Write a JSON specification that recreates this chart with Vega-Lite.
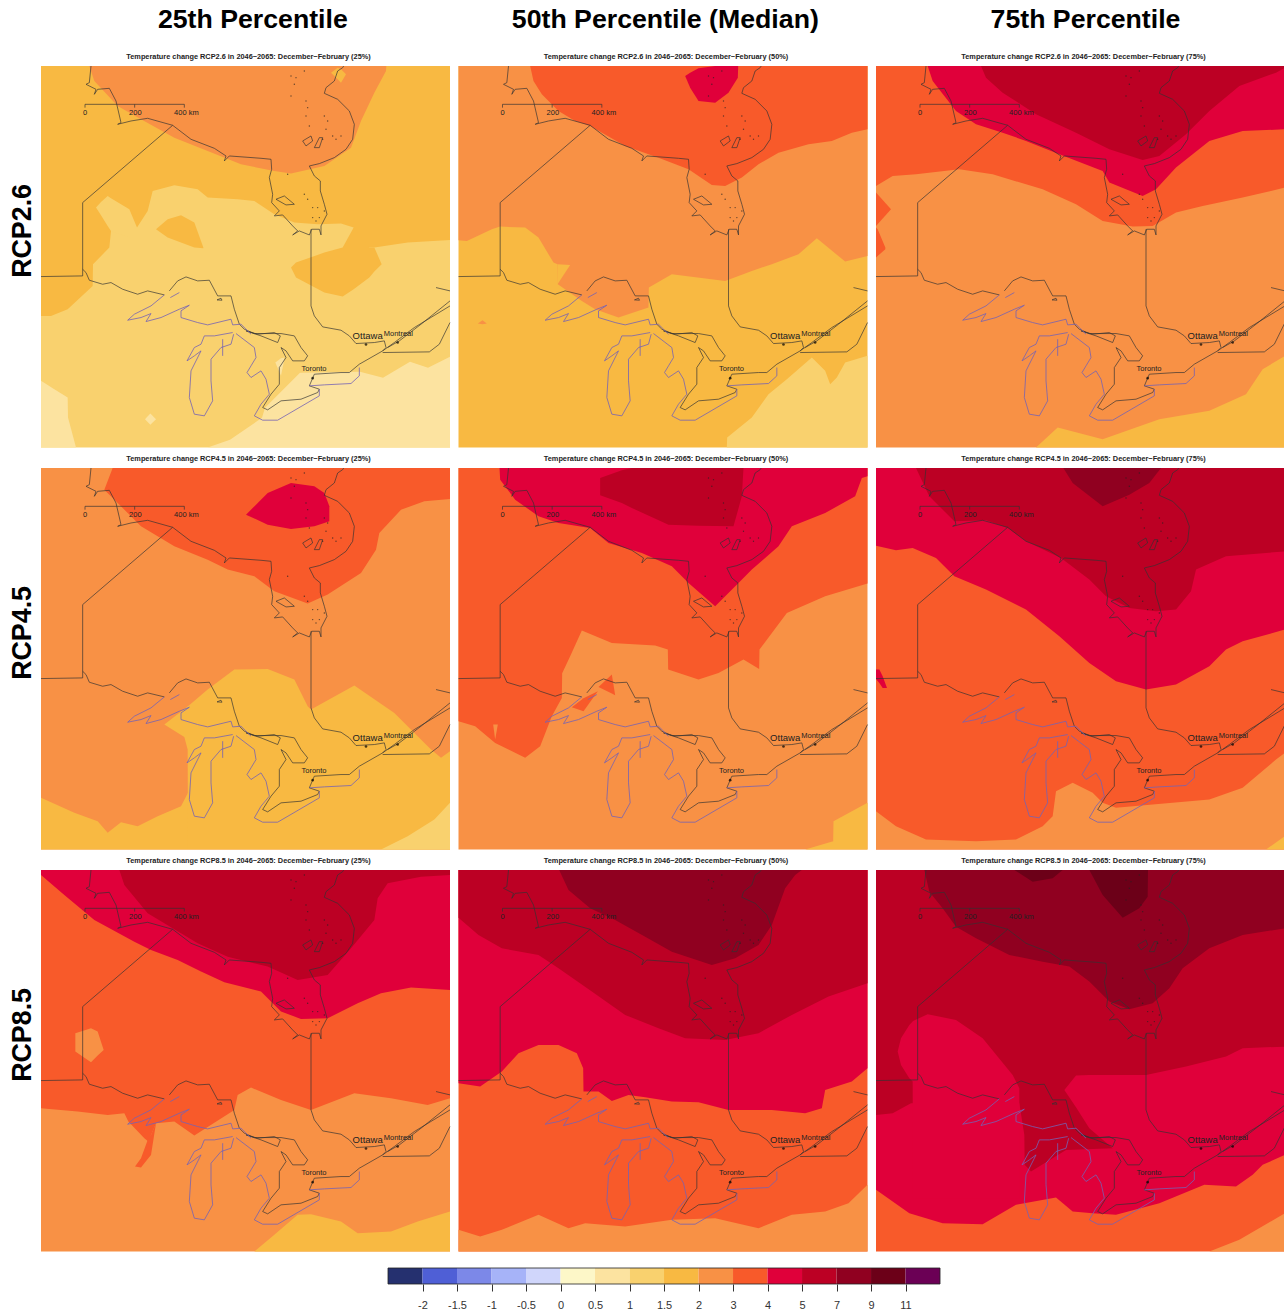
{"$schema":"https://vega.github.io/schema/vega-lite/v6.json","background":"white","padding":{"left":10,"top":7,"right":0,"bottom":0},"spacing":15,
"config":{"view":{"stroke":null},"text":{"font":"Liberation Sans"},"axis":{"labelFont":"Liberation Sans"}},
"datasets":{
"land":[
{"g":1,"x":150,"y":15},{"g":1,"x":145,"y":65},{"g":1,"x":135,"y":70},{"g":1,"x":165,"y":85},{"g":1,"x":160,"y":100},{"g":1,"x":170,"y":85},{"g":1,"x":205,"y":82},{"g":1,"x":225,"y":120},{"g":1,"x":240,"y":185},{"g":1,"x":230,"y":190},{"g":1,"x":270,"y":180},{"g":1,"x":320,"y":172},{"g":1,"x":395,"y":193},{"g":1,"x":450,"y":235},{"g":1,"x":520,"y":262},{"g":1,"x":555,"y":285},{"g":1,"x":550,"y":300},{"g":1,"x":565,"y":285},{"g":1,"x":660,"y":292},{"g":1,"x":690,"y":295},{"g":1,"x":692,"y":325},{"g":1,"x":685,"y":350},{"g":1,"x":695,"y":400},{"g":1,"x":692,"y":425},{"g":1,"x":715,"y":450},{"g":1,"x":700,"y":465},{"g":1,"x":725,"y":462},{"g":1,"x":755,"y":495},{"g":1,"x":770,"y":510},{"g":1,"x":755,"y":522},{"g":1,"x":775,"y":510},{"g":1,"x":805,"y":522},{"g":1,"x":812,"y":505},{"g":1,"x":835,"y":505},{"g":1,"x":840,"y":522},{"g":1,"x":840,"y":495},{"g":1,"x":858,"y":460},{"g":1,"x":850,"y":430},{"g":1,"x":838,"y":390},{"g":1,"x":838,"y":360},{"g":1,"x":820,"y":345},{"g":1,"x":805,"y":315},{"g":1,"x":835,"y":308},{"g":1,"x":880,"y":290},{"g":1,"x":915,"y":265},{"g":1,"x":935,"y":235},{"g":1,"x":940,"y":190},{"g":1,"x":925,"y":150},{"g":1,"x":890,"y":115},{"g":1,"x":850,"y":97},{"g":1,"x":855,"y":80},{"g":1,"x":880,"y":60},{"g":1,"x":890,"y":30},{"g":1,"x":905,"y":20},{"g":1,"x":908,"y":15},
{"g":2,"x":395,"y":193},{"g":2,"x":125,"y":425},{"g":2,"x":125,"y":645},{"g":2,"x":0,"y":647},
{"g":3,"x":125,"y":625},{"g":3,"x":135,"y":635},{"g":3,"x":145,"y":658},{"g":3,"x":185,"y":670},{"g":3,"x":210,"y":665},{"g":3,"x":245,"y":685},{"g":3,"x":290,"y":700},{"g":3,"x":320,"y":690},{"g":3,"x":370,"y":702},
{"g":4,"x":385,"y":690},{"g":4,"x":410,"y":660},{"g":4,"x":435,"y":648},{"g":4,"x":470,"y":660},{"g":4,"x":505,"y":658},{"g":4,"x":530,"y":705},{"g":4,"x":570,"y":705},{"g":4,"x":580,"y":745},{"g":4,"x":595,"y":790},{"g":4,"x":610,"y":805},{"g":4,"x":640,"y":818},{"g":4,"x":720,"y":818},{"g":4,"x":760,"y":825},{"g":4,"x":780,"y":860},{"g":4,"x":800,"y":885},{"g":4,"x":790,"y":900},{"g":4,"x":755,"y":900},{"g":4,"x":735,"y":870},{"g":4,"x":720,"y":860},{"g":4,"x":735,"y":890},{"g":4,"x":715,"y":920},{"g":4,"x":715,"y":970},{"g":4,"x":690,"y":1000},{"g":4,"x":665,"y":1040},{"g":4,"x":680,"y":1047},{"g":4,"x":720,"y":1020},{"g":4,"x":780,"y":1015},{"g":4,"x":830,"y":995},{"g":4,"x":835,"y":985},{"g":4,"x":805,"y":975},{"g":4,"x":820,"y":940},{"g":4,"x":900,"y":935},{"g":4,"x":925,"y":935},{"g":4,"x":955,"y":910},{"g":4,"x":1025,"y":870},{"g":4,"x":1060,"y":845},{"g":4,"x":1120,"y":800},{"g":4,"x":1227,"y":735},
{"g":5,"x":810,"y":505},{"g":5,"x":810,"y":735},{"g":5,"x":820,"y":765},{"g":5,"x":845,"y":798},{"g":5,"x":900,"y":808},{"g":5,"x":925,"y":825},{"g":5,"x":945,"y":848},{"g":5,"x":1000,"y":845},{"g":5,"x":1030,"y":840},{"g":5,"x":1035,"y":860},{"g":5,"x":1025,"y":870},
{"g":6,"x":1025,"y":875},{"g":6,"x":1165,"y":873},{"g":6,"x":1195,"y":850},{"g":6,"x":1227,"y":785},
{"g":7,"x":1040,"y":860},{"g":7,"x":1075,"y":840},{"g":7,"x":1140,"y":790},{"g":7,"x":1227,"y":720},
{"g":8,"x":1185,"y":680},{"g":8,"x":1227,"y":690},
{"g":9,"x":705,"y":415},{"g":9,"x":730,"y":405},{"g":9,"x":760,"y":430},{"g":9,"x":735,"y":432},{"g":9,"x":705,"y":415},
{"g":10,"x":785,"y":240},{"g":10,"x":810,"y":225},{"g":10,"x":815,"y":240},{"g":10,"x":795,"y":255},{"g":10,"x":785,"y":240},
{"g":11,"x":820,"y":260},{"g":11,"x":835,"y":230},{"g":11,"x":845,"y":230},{"g":11,"x":835,"y":260},{"g":11,"x":820,"y":260},
{"g":12,"x":615,"y":810},{"g":12,"x":650,"y":820},{"g":12,"x":700,"y":815},{"g":12,"x":718,"y":825},{"g":12,"x":710,"y":845},{"g":12,"x":660,"y":825},{"g":12,"x":615,"y":810},
{"g":13,"x":528,"y":717},{"g":13,"x":540,"y":712},{"g":13,"x":543,"y":718},{"g":13,"x":528,"y":717},
{"g":14,"x":132,"y":140},{"g":14,"x":132,"y":130},{"g":14,"x":430,"y":130},{"g":14,"x":430,"y":140},
{"g":15,"x":281,"y":130},{"g":15,"x":281,"y":140}],
"lake":[
{"g":1,"x":370,"y":702},{"g":1,"x":330,"y":735},{"g":1,"x":280,"y":760},{"g":1,"x":260,"y":778},{"g":1,"x":300,"y":770},{"g":1,"x":330,"y":758},{"g":1,"x":315,"y":782},{"g":1,"x":360,"y":770},{"g":1,"x":415,"y":745},{"g":1,"x":445,"y":733},{"g":1,"x":420,"y":750},{"g":1,"x":420,"y":770},{"g":1,"x":470,"y":785},{"g":1,"x":500,"y":792},{"g":1,"x":570,"y":775},{"g":1,"x":575,"y":792},{"g":1,"x":600,"y":790},{"g":1,"x":630,"y":820},
{"g":2,"x":585,"y":818},{"g":2,"x":640,"y":860},{"g":2,"x":645,"y":890},{"g":2,"x":630,"y":915},{"g":2,"x":618,"y":935},{"g":2,"x":630,"y":950},{"g":2,"x":660,"y":930},{"g":2,"x":675,"y":955},{"g":2,"x":685,"y":1000},{"g":2,"x":660,"y":1030},{"g":2,"x":640,"y":1065},{"g":2,"x":665,"y":1078},{"g":2,"x":710,"y":1078},{"g":2,"x":835,"y":1005},{"g":2,"x":835,"y":985},
{"g":3,"x":575,"y":815},{"g":3,"x":520,"y":825},{"g":3,"x":490,"y":825},{"g":3,"x":480,"y":850},{"g":3,"x":460,"y":860},{"g":3,"x":438,"y":900},{"g":3,"x":460,"y":885},{"g":3,"x":480,"y":870},{"g":3,"x":450,"y":930},{"g":3,"x":445,"y":1010},{"g":3,"x":460,"y":1060},{"g":3,"x":490,"y":1065},{"g":3,"x":515,"y":1020},{"g":3,"x":510,"y":960},{"g":3,"x":510,"y":895},{"g":3,"x":540,"y":860},{"g":3,"x":570,"y":850},{"g":3,"x":578,"y":820},
{"g":4,"x":805,"y":975},{"g":4,"x":850,"y":972},{"g":4,"x":930,"y":968},{"g":4,"x":955,"y":945},{"g":4,"x":955,"y":920},
{"g":5,"x":388,"y":710},{"g":5,"x":415,"y":695},
{"g":6,"x":545,"y":835},{"g":6,"x":545,"y":885}],
"dots":[{"x":750,"y":45},{"x":765,"y":50},{"x":790,"y":30},{"x":760,"y":70},{"x":750,"y":105},{"x":795,"y":120},{"x":800,"y":140},{"x":795,"y":165},{"x":850,"y":165},{"x":860,"y":180},{"x":805,"y":195},{"x":855,"y":205},{"x":845,"y":235},{"x":875,"y":225},{"x":900,"y":225},{"x":885,"y":235},{"x":740,"y":340},{"x":790,"y":400},{"x":800,"y":415},{"x":815,"y":440},{"x":830,"y":440},{"x":815,"y":470},{"x":835,"y":470},{"x":850,"y":450},{"x":825,"y":480}],
"cities":[{"x":975,"y":851},{"x":1070,"y":845},{"x":815,"y":952}],
"labels":[{"n":"Montreal","x":1072,"y":818},{"n":"Toronto","x":819,"y":925},{"n":"0","x":132,"y":157},{"n":"200","x":283,"y":157},{"n":"400 km","x":436,"y":157}]
},
"vconcat":[
{"data":{"values":[
{"r":1,"c":1,"t":"Temperature change RCP2.6 in 2046−2065: December−February (25%)","h":"25th Percentile","l":"RCP2.6"},
{"r":1,"c":2,"t":"Temperature change RCP2.6 in 2046−2065: December−February (50%)","h":"50th Percentile (Median)"},
{"r":1,"c":3,"t":"Temperature change RCP2.6 in 2046−2065: December−February (75%)","h":"75th Percentile"},
{"r":2,"c":1,"t":"Temperature change RCP4.5 in 2046−2065: December−February (25%)","l":"RCP4.5"},
{"r":2,"c":2,"t":"Temperature change RCP4.5 in 2046−2065: December−February (50%)"},
{"r":2,"c":3,"t":"Temperature change RCP4.5 in 2046−2065: December−February (75%)"},
{"r":3,"c":1,"t":"Temperature change RCP8.5 in 2046−2065: December−February (25%)","l":"RCP8.5"},
{"r":3,"c":2,"t":"Temperature change RCP8.5 in 2046−2065: December−February (50%)"},
{"r":3,"c":3,"t":"Temperature change RCP8.5 in 2046−2065: December−February (75%)"},
{"r":1,"c":1,"s":1,"v":1,"x":0,"y":15,"z":1160},{"r":1,"c":1,"s":1,"v":1,"x":1227,"y":15,"z":1160},
{"r":1,"c":1,"s":2,"v":1.5,"x":0,"y":15,"z":765},{"r":1,"c":1,"s":2,"v":1.5,"x":30,"y":15,"z":765},{"r":1,"c":1,"s":2,"v":1.5,"x":80,"y":15,"z":745},{"r":1,"c":1,"s":2,"v":1.5,"x":155,"y":15,"z":675},{"r":1,"c":1,"s":2,"v":1.5,"x":156,"y":15,"z":610},{"r":1,"c":1,"s":2,"v":1.5,"x":205,"y":15,"z":560},{"r":1,"c":1,"s":2,"v":1.5,"x":210,"y":15,"z":510},{"r":1,"c":1,"s":2,"v":1.5,"x":288,"y":15,"z":500},{"r":1,"c":1,"s":2,"v":1.5,"x":320,"y":15,"z":450},{"r":1,"c":1,"s":2,"v":1.5,"x":335,"y":15,"z":390},{"r":1,"c":1,"s":2,"v":1.5,"x":400,"y":15,"z":373},{"r":1,"c":1,"s":2,"v":1.5,"x":470,"y":15,"z":385},{"r":1,"c":1,"s":2,"v":1.5,"x":500,"y":15,"z":410},{"r":1,"c":1,"s":2,"v":1.5,"x":590,"y":15,"z":415},{"r":1,"c":1,"s":2,"v":1.5,"x":640,"y":15,"z":420},{"r":1,"c":1,"s":2,"v":1.5,"x":700,"y":15,"z":460},{"r":1,"c":1,"s":2,"v":1.5,"x":760,"y":15,"z":485},{"r":1,"c":1,"s":2,"v":1.5,"x":830,"y":15,"z":490},{"r":1,"c":1,"s":2,"v":1.5,"x":900,"y":15,"z":488},{"r":1,"c":1,"s":2,"v":1.5,"x":938,"y":15,"z":500},{"r":1,"c":1,"s":2,"v":1.5,"x":940,"y":15,"z":560},{"r":1,"c":1,"s":2,"v":1.5,"x":1000,"y":15,"z":560},{"r":1,"c":1,"s":2,"v":1.5,"x":1100,"y":15,"z":545},{"r":1,"c":1,"s":2,"v":1.5,"x":1227,"y":15,"z":537},
{"r":1,"c":1,"s":3,"v":1,"x":165,"y":440,"z":440},{"r":1,"c":1,"s":3,"v":1,"x":180,"y":423,"z":463},{"r":1,"c":1,"s":3,"v":1,"x":200,"y":405,"z":495},{"r":1,"c":1,"s":3,"v":1,"x":210,"y":412,"z":510},{"r":1,"c":1,"s":3,"v":1,"x":265,"y":445,"z":530},{"r":1,"c":1,"s":3,"v":1,"x":288,"y":500,"z":530},
{"r":1,"c":1,"s":4,"v":1.5,"x":345,"y":505,"z":505},{"r":1,"c":1,"s":4,"v":1.5,"x":380,"y":475,"z":530},{"r":1,"c":1,"s":4,"v":1.5,"x":420,"y":463,"z":545},{"r":1,"c":1,"s":4,"v":1.5,"x":460,"y":485,"z":560},{"r":1,"c":1,"s":4,"v":1.5,"x":487,"y":560,"z":562},
{"r":1,"c":1,"s":5,"v":1.5,"x":750,"y":620,"z":620},{"r":1,"c":1,"s":5,"v":1.5,"x":765,"y":605,"z":650},{"r":1,"c":1,"s":5,"v":1.5,"x":850,"y":575,"z":695},{"r":1,"c":1,"s":5,"v":1.5,"x":905,"y":560,"z":707},{"r":1,"c":1,"s":5,"v":1.5,"x":938,"y":500,"z":685},{"r":1,"c":1,"s":5,"v":1.5,"x":985,"y":560,"z":650},{"r":1,"c":1,"s":5,"v":1.5,"x":1000,"y":560,"z":632},{"r":1,"c":1,"s":5,"v":1.5,"x":1022,"y":610,"z":610},
{"r":1,"c":1,"s":6,"v":0.5,"x":500,"y":1160,"z":1160},{"r":1,"c":1,"s":6,"v":0.5,"x":567,"y":1137,"z":1160},{"r":1,"c":1,"s":6,"v":0.5,"x":663,"y":1071,"z":1160},{"r":1,"c":1,"s":6,"v":0.5,"x":672,"y":1041,"z":1160},{"r":1,"c":1,"s":6,"v":0.5,"x":777,"y":936,"z":1160},{"r":1,"c":1,"s":6,"v":0.5,"x":957,"y":933,"z":1160},{"r":1,"c":1,"s":6,"v":0.5,"x":1026,"y":951,"z":1160},{"r":1,"c":1,"s":6,"v":0.5,"x":1107,"y":903,"z":1160},{"r":1,"c":1,"s":6,"v":0.5,"x":1161,"y":921,"z":1160},{"r":1,"c":1,"s":6,"v":0.5,"x":1227,"y":888,"z":1160},
{"r":1,"c":1,"s":7,"v":0.5,"x":0,"y":960,"z":1160},{"r":1,"c":1,"s":7,"v":0.5,"x":40,"y":985,"z":1160},{"r":1,"c":1,"s":7,"v":0.5,"x":80,"y":1010,"z":1160},{"r":1,"c":1,"s":7,"v":0.5,"x":81,"y":1070,"z":1160},{"r":1,"c":1,"s":7,"v":0.5,"x":105,"y":1160,"z":1160},
{"r":1,"c":1,"s":8,"v":0.5,"x":312,"y":1075,"z":1075},{"r":1,"c":1,"s":8,"v":0.5,"x":328,"y":1058,"z":1092},{"r":1,"c":1,"s":8,"v":0.5,"x":345,"y":1075,"z":1075},
{"r":1,"c":1,"s":9,"v":0.5,"x":703,"y":905,"z":905},{"r":1,"c":1,"s":9,"v":0.5,"x":720,"y":892,"z":945},{"r":1,"c":1,"s":9,"v":0.5,"x":730,"y":890,"z":895},
{"r":1,"c":1,"s":10,"v":2,"x":145,"y":15,"z":15},{"r":1,"c":1,"s":10,"v":2,"x":160,"y":15,"z":60},{"r":1,"c":1,"s":10,"v":2,"x":230,"y":15,"z":135},{"r":1,"c":1,"s":10,"v":2,"x":300,"y":15,"z":175},{"r":1,"c":1,"s":10,"v":2,"x":400,"y":15,"z":230},{"r":1,"c":1,"s":10,"v":2,"x":500,"y":15,"z":270},{"r":1,"c":1,"s":10,"v":2,"x":600,"y":15,"z":310},{"r":1,"c":1,"s":10,"v":2,"x":700,"y":15,"z":330},{"r":1,"c":1,"s":10,"v":2,"x":750,"y":15,"z":338},{"r":1,"c":1,"s":10,"v":2,"x":850,"y":15,"z":315},{"r":1,"c":1,"s":10,"v":2,"x":930,"y":15,"z":260},{"r":1,"c":1,"s":10,"v":2,"x":960,"y":15,"z":180},{"r":1,"c":1,"s":10,"v":2,"x":1000,"y":15,"z":95},{"r":1,"c":1,"s":10,"v":2,"x":1035,"y":15,"z":30},{"r":1,"c":1,"s":10,"v":2,"x":1036,"y":15,"z":15},
{"r":1,"c":1,"s":11,"v":1.5,"x":870,"y":35,"z":35},{"r":1,"c":1,"s":11,"v":1.5,"x":890,"y":20,"z":55},{"r":1,"c":1,"s":11,"v":1.5,"x":900,"y":25,"z":65},{"r":1,"c":1,"s":11,"v":1.5,"x":915,"y":40,"z":40},

{"r":1,"c":2,"s":1,"v":1.5,"x":0,"y":15,"z":1160},{"r":1,"c":2,"s":1,"v":1.5,"x":1227,"y":15,"z":1160},
{"r":1,"c":2,"s":2,"v":2,"x":0,"y":15,"z":538},{"r":1,"c":2,"s":2,"v":2,"x":25,"y":15,"z":540},{"r":1,"c":2,"s":2,"v":2,"x":100,"y":15,"z":505},{"r":1,"c":2,"s":2,"v":2,"x":125,"y":15,"z":497},{"r":1,"c":2,"s":2,"v":2,"x":200,"y":15,"z":500},{"r":1,"c":2,"s":2,"v":2,"x":240,"y":15,"z":530},{"r":1,"c":2,"s":2,"v":2,"x":285,"y":15,"z":605},{"r":1,"c":2,"s":2,"v":2,"x":297,"y":15,"z":610},{"r":1,"c":2,"s":2,"v":2,"x":298,"y":15,"z":670},{"r":1,"c":2,"s":2,"v":2,"x":370,"y":15,"z":720},{"r":1,"c":2,"s":2,"v":2,"x":410,"y":15,"z":745},{"r":1,"c":2,"s":2,"v":2,"x":480,"y":15,"z":770},{"r":1,"c":2,"s":2,"v":2,"x":570,"y":15,"z":740},{"r":1,"c":2,"s":2,"v":2,"x":571,"y":15,"z":680},{"r":1,"c":2,"s":2,"v":2,"x":640,"y":15,"z":640},{"r":1,"c":2,"s":2,"v":2,"x":800,"y":15,"z":660},{"r":1,"c":2,"s":2,"v":2,"x":880,"y":15,"z":630},{"r":1,"c":2,"s":2,"v":2,"x":940,"y":15,"z":610},{"r":1,"c":2,"s":2,"v":2,"x":1020,"y":15,"z":580},{"r":1,"c":2,"s":2,"v":2,"x":1075,"y":15,"z":532},{"r":1,"c":2,"s":2,"v":2,"x":1160,"y":15,"z":602},{"r":1,"c":2,"s":2,"v":2,"x":1227,"y":15,"z":585},
{"r":1,"c":2,"s":3,"v":1.5,"x":297,"y":610,"z":670},{"r":1,"c":2,"s":3,"v":1.5,"x":335,"y":612,"z":612},
{"r":1,"c":2,"s":4,"v":3,"x":215,"y":15,"z":15},{"r":1,"c":2,"s":4,"v":3,"x":225,"y":15,"z":60},{"r":1,"c":2,"s":4,"v":3,"x":250,"y":15,"z":100},{"r":1,"c":2,"s":4,"v":3,"x":300,"y":15,"z":150},{"r":1,"c":2,"s":4,"v":3,"x":350,"y":15,"z":180},{"r":1,"c":2,"s":4,"v":3,"x":395,"y":15,"z":195},{"r":1,"c":2,"s":4,"v":3,"x":500,"y":15,"z":255},{"r":1,"c":2,"s":4,"v":3,"x":600,"y":15,"z":290},{"r":1,"c":2,"s":4,"v":3,"x":690,"y":15,"z":325},{"r":1,"c":2,"s":4,"v":3,"x":760,"y":15,"z":372},{"r":1,"c":2,"s":4,"v":3,"x":800,"y":15,"z":375},{"r":1,"c":2,"s":4,"v":3,"x":850,"y":15,"z":350},{"r":1,"c":2,"s":4,"v":3,"x":900,"y":15,"z":310},{"r":1,"c":2,"s":4,"v":3,"x":960,"y":15,"z":275},{"r":1,"c":2,"s":4,"v":3,"x":1050,"y":15,"z":250},{"r":1,"c":2,"s":4,"v":3,"x":1120,"y":15,"z":240},{"r":1,"c":2,"s":4,"v":3,"x":1180,"y":15,"z":215},{"r":1,"c":2,"s":4,"v":3,"x":1227,"y":15,"z":205},
{"r":1,"c":2,"s":5,"v":4,"x":680,"y":45,"z":45},{"r":1,"c":2,"s":5,"v":4,"x":695,"y":35,"z":80},{"r":1,"c":2,"s":5,"v":4,"x":720,"y":22,"z":120},{"r":1,"c":2,"s":5,"v":4,"x":770,"y":15,"z":125},{"r":1,"c":2,"s":5,"v":4,"x":810,"y":15,"z":95},{"r":1,"c":2,"s":5,"v":4,"x":838,"y":15,"z":50},{"r":1,"c":2,"s":5,"v":4,"x":839,"y":15,"z":15},
{"r":1,"c":2,"s":6,"v":1,"x":805,"y":1160,"z":1160},{"r":1,"c":2,"s":6,"v":1,"x":806,"y":1130,"z":1160},{"r":1,"c":2,"s":6,"v":1,"x":880,"y":1070,"z":1160},{"r":1,"c":2,"s":6,"v":1,"x":930,"y":1000,"z":1160},{"r":1,"c":2,"s":6,"v":1,"x":985,"y":955,"z":1160},{"r":1,"c":2,"s":6,"v":1,"x":1060,"y":890,"z":1160},{"r":1,"c":2,"s":6,"v":1,"x":1100,"y":930,"z":1160},{"r":1,"c":2,"s":6,"v":1,"x":1115,"y":970,"z":1160},{"r":1,"c":2,"s":6,"v":1,"x":1135,"y":950,"z":1160},{"r":1,"c":2,"s":6,"v":1,"x":1160,"y":905,"z":1160},{"r":1,"c":2,"s":6,"v":1,"x":1227,"y":885,"z":1160},
{"r":1,"c":2,"s":7,"v":2,"x":58,"y":788,"z":788},{"r":1,"c":2,"s":7,"v":2,"x":72,"y":778,"z":790},{"r":1,"c":2,"s":7,"v":2,"x":85,"y":788,"z":788},

{"r":1,"c":3,"s":1,"v":2,"x":0,"y":15,"z":1160},{"r":1,"c":3,"s":1,"v":2,"x":1227,"y":15,"z":1160},
{"r":1,"c":3,"s":2,"v":3,"x":0,"y":15,"z":375},{"r":1,"c":3,"s":2,"v":3,"x":50,"y":15,"z":345},{"r":1,"c":3,"s":2,"v":3,"x":120,"y":15,"z":340},{"r":1,"c":3,"s":2,"v":3,"x":250,"y":15,"z":325},{"r":1,"c":3,"s":2,"v":3,"x":350,"y":15,"z":340},{"r":1,"c":3,"s":2,"v":3,"x":500,"y":15,"z":385},{"r":1,"c":3,"s":2,"v":3,"x":600,"y":15,"z":430},{"r":1,"c":3,"s":2,"v":3,"x":680,"y":15,"z":480},{"r":1,"c":3,"s":2,"v":3,"x":770,"y":15,"z":497},{"r":1,"c":3,"s":2,"v":3,"x":830,"y":15,"z":495},{"r":1,"c":3,"s":2,"v":3,"x":900,"y":15,"z":455},{"r":1,"c":3,"s":2,"v":3,"x":980,"y":15,"z":435},{"r":1,"c":3,"s":2,"v":3,"x":1100,"y":15,"z":410},{"r":1,"c":3,"s":2,"v":3,"x":1227,"y":15,"z":380},
{"r":1,"c":3,"s":3,"v":3,"x":0,"y":395,"z":495},{"r":1,"c":3,"s":3,"v":3,"x":45,"y":445,"z":445},
{"r":1,"c":3,"s":4,"v":3,"x":0,"y":500,"z":590},{"r":1,"c":3,"s":4,"v":3,"x":5,"y":505,"z":585},{"r":1,"c":3,"s":4,"v":3,"x":28,"y":560,"z":565},
{"r":1,"c":3,"s":5,"v":4,"x":155,"y":15,"z":15},{"r":1,"c":3,"s":5,"v":4,"x":170,"y":15,"z":60},{"r":1,"c":3,"s":5,"v":4,"x":240,"y":15,"z":150},{"r":1,"c":3,"s":5,"v":4,"x":300,"y":15,"z":190},{"r":1,"c":3,"s":5,"v":4,"x":380,"y":15,"z":215},{"r":1,"c":3,"s":5,"v":4,"x":450,"y":15,"z":240},{"r":1,"c":3,"s":5,"v":4,"x":550,"y":15,"z":280},{"r":1,"c":3,"s":5,"v":4,"x":680,"y":15,"z":330},{"r":1,"c":3,"s":5,"v":4,"x":700,"y":15,"z":365},{"r":1,"c":3,"s":5,"v":4,"x":800,"y":15,"z":405},{"r":1,"c":3,"s":5,"v":4,"x":840,"y":15,"z":385},{"r":1,"c":3,"s":5,"v":4,"x":900,"y":15,"z":320},{"r":1,"c":3,"s":5,"v":4,"x":1000,"y":15,"z":240},{"r":1,"c":3,"s":5,"v":4,"x":1100,"y":15,"z":210},{"r":1,"c":3,"s":5,"v":4,"x":1227,"y":15,"z":205},
{"r":1,"c":3,"s":6,"v":5,"x":315,"y":15,"z":15},{"r":1,"c":3,"s":6,"v":5,"x":330,"y":15,"z":50},{"r":1,"c":3,"s":6,"v":5,"x":380,"y":15,"z":95},{"r":1,"c":3,"s":6,"v":5,"x":480,"y":15,"z":160},{"r":1,"c":3,"s":6,"v":5,"x":600,"y":15,"z":215},{"r":1,"c":3,"s":6,"v":5,"x":700,"y":15,"z":265},{"r":1,"c":3,"s":6,"v":5,"x":800,"y":15,"z":297},{"r":1,"c":3,"s":6,"v":5,"x":850,"y":15,"z":285},{"r":1,"c":3,"s":6,"v":5,"x":930,"y":15,"z":220},{"r":1,"c":3,"s":6,"v":5,"x":1000,"y":15,"z":150},{"r":1,"c":3,"s":6,"v":5,"x":1090,"y":15,"z":75},{"r":1,"c":3,"s":6,"v":5,"x":1200,"y":15,"z":35},{"r":1,"c":3,"s":6,"v":5,"x":1227,"y":15,"z":20},
{"r":1,"c":3,"s":7,"v":1.5,"x":480,"y":1160,"z":1160},{"r":1,"c":3,"s":7,"v":1.5,"x":545,"y":1100,"z":1160},{"r":1,"c":3,"s":7,"v":1.5,"x":680,"y":1135,"z":1160},{"r":1,"c":3,"s":7,"v":1.5,"x":850,"y":1075,"z":1160},{"r":1,"c":3,"s":7,"v":1.5,"x":1000,"y":1050,"z":1160},{"r":1,"c":3,"s":7,"v":1.5,"x":1110,"y":1000,"z":1160},{"r":1,"c":3,"s":7,"v":1.5,"x":1160,"y":925,"z":1160},{"r":1,"c":3,"s":7,"v":1.5,"x":1227,"y":885,"z":1160},

{"r":2,"c":1,"s":1,"v":2,"x":0,"y":15,"z":1160},{"r":2,"c":1,"s":1,"v":2,"x":1227,"y":15,"z":1160},
{"r":2,"c":1,"s":2,"v":3,"x":190,"y":80,"z":80},{"r":2,"c":1,"s":2,"v":3,"x":215,"y":15,"z":105},{"r":2,"c":1,"s":2,"v":3,"x":240,"y":15,"z":130},{"r":2,"c":1,"s":2,"v":3,"x":300,"y":15,"z":190},{"r":2,"c":1,"s":2,"v":3,"x":400,"y":15,"z":250},{"r":2,"c":1,"s":2,"v":3,"x":500,"y":15,"z":290},{"r":2,"c":1,"s":2,"v":3,"x":560,"y":15,"z":320},{"r":2,"c":1,"s":2,"v":3,"x":640,"y":15,"z":340},{"r":2,"c":1,"s":2,"v":3,"x":700,"y":15,"z":385},{"r":2,"c":1,"s":2,"v":3,"x":800,"y":15,"z":422},{"r":2,"c":1,"s":2,"v":3,"x":860,"y":15,"z":395},{"r":2,"c":1,"s":2,"v":3,"x":960,"y":15,"z":330},{"r":2,"c":1,"s":2,"v":3,"x":1005,"y":15,"z":260},{"r":2,"c":1,"s":2,"v":3,"x":1015,"y":15,"z":210},{"r":2,"c":1,"s":2,"v":3,"x":1080,"y":15,"z":140},{"r":2,"c":1,"s":2,"v":3,"x":1150,"y":15,"z":115},{"r":2,"c":1,"s":2,"v":3,"x":1227,"y":15,"z":108},
{"r":2,"c":1,"s":3,"v":4,"x":615,"y":155,"z":155},{"r":2,"c":1,"s":3,"v":4,"x":680,"y":90,"z":185},{"r":2,"c":1,"s":3,"v":4,"x":750,"y":60,"z":198},{"r":2,"c":1,"s":3,"v":4,"x":820,"y":70,"z":190},{"r":2,"c":1,"s":3,"v":4,"x":850,"y":90,"z":180},{"r":2,"c":1,"s":3,"v":4,"x":865,"y":130,"z":175},
{"r":2,"c":1,"s":4,"v":1.5,"x":0,"y":1005,"z":1160},{"r":2,"c":1,"s":4,"v":1.5,"x":100,"y":1050,"z":1160},{"r":2,"c":1,"s":4,"v":1.5,"x":170,"y":1075,"z":1160},{"r":2,"c":1,"s":4,"v":1.5,"x":200,"y":1110,"z":1160},{"r":2,"c":1,"s":4,"v":1.5,"x":240,"y":1078,"z":1160},{"r":2,"c":1,"s":4,"v":1.5,"x":290,"y":1090,"z":1160},{"r":2,"c":1,"s":4,"v":1.5,"x":350,"y":1060,"z":1160},{"r":2,"c":1,"s":4,"v":1.5,"x":420,"y":1030,"z":1160},{"r":2,"c":1,"s":4,"v":1.5,"x":441,"y":990,"z":1160},
{"r":2,"c":1,"s":5,"v":1.5,"x":370,"y":785,"z":785},{"r":2,"c":1,"s":5,"v":1.5,"x":430,"y":738,"z":822},{"r":2,"c":1,"s":5,"v":1.5,"x":440,"y":730,"z":860},{"r":2,"c":1,"s":5,"v":1.5,"x":441,"y":730,"z":1160},{"r":2,"c":1,"s":5,"v":1.5,"x":500,"y":680,"z":1160},{"r":2,"c":1,"s":5,"v":1.5,"x":580,"y":620,"z":1160},{"r":2,"c":1,"s":5,"v":1.5,"x":680,"y":618,"z":1160},{"r":2,"c":1,"s":5,"v":1.5,"x":760,"y":650,"z":1160},{"r":2,"c":1,"s":5,"v":1.5,"x":800,"y":730,"z":1160},{"r":2,"c":1,"s":5,"v":1.5,"x":810,"y":740,"z":1160},{"r":2,"c":1,"s":5,"v":1.5,"x":940,"y":668,"z":1160},{"r":2,"c":1,"s":5,"v":1.5,"x":1060,"y":750,"z":1160},{"r":2,"c":1,"s":5,"v":1.5,"x":1170,"y":860,"z":1160},{"r":2,"c":1,"s":5,"v":1.5,"x":1200,"y":885,"z":1160},{"r":2,"c":1,"s":5,"v":1.5,"x":1227,"y":865,"z":1160},
{"r":2,"c":1,"s":6,"v":1,"x":1020,"y":1160,"z":1160},{"r":2,"c":1,"s":6,"v":1,"x":1100,"y":1120,"z":1160},{"r":2,"c":1,"s":6,"v":1,"x":1180,"y":1070,"z":1160},{"r":2,"c":1,"s":6,"v":1,"x":1227,"y":1020,"z":1160},

{"r":2,"c":2,"s":1,"v":2,"x":0,"y":15,"z":1160},{"r":2,"c":2,"s":1,"v":2,"x":1227,"y":15,"z":1160},
{"r":2,"c":2,"s":2,"v":3,"x":0,"y":15,"z":775},{"r":2,"c":2,"s":2,"v":3,"x":50,"y":15,"z":790},{"r":2,"c":2,"s":2,"v":3,"x":110,"y":15,"z":840},{"r":2,"c":2,"s":2,"v":3,"x":200,"y":15,"z":885},{"r":2,"c":2,"s":2,"v":3,"x":245,"y":15,"z":850},{"r":2,"c":2,"s":2,"v":3,"x":280,"y":15,"z":760},{"r":2,"c":2,"s":2,"v":3,"x":310,"y":15,"z":705},{"r":2,"c":2,"s":2,"v":3,"x":311,"y":15,"z":631},{"r":2,"c":2,"s":2,"v":3,"x":335,"y":15,"z":580},{"r":2,"c":2,"s":2,"v":3,"x":370,"y":15,"z":503},{"r":2,"c":2,"s":2,"v":3,"x":460,"y":15,"z":540},{"r":2,"c":2,"s":2,"v":3,"x":590,"y":15,"z":548},{"r":2,"c":2,"s":2,"v":3,"x":628,"y":15,"z":560},{"r":2,"c":2,"s":2,"v":3,"x":629,"y":15,"z":620},{"r":2,"c":2,"s":2,"v":3,"x":720,"y":15,"z":650},{"r":2,"c":2,"s":2,"v":3,"x":780,"y":15,"z":630},{"r":2,"c":2,"s":2,"v":3,"x":855,"y":15,"z":590},{"r":2,"c":2,"s":2,"v":3,"x":902,"y":15,"z":618},{"r":2,"c":2,"s":2,"v":3,"x":903,"y":15,"z":560},{"r":2,"c":2,"s":2,"v":3,"x":985,"y":15,"z":450},{"r":2,"c":2,"s":2,"v":3,"x":1100,"y":15,"z":400},{"r":2,"c":2,"s":2,"v":3,"x":1227,"y":15,"z":362},
{"r":2,"c":2,"s":3,"v":2,"x":104,"y":785,"z":785},{"r":2,"c":2,"s":3,"v":2,"x":110,"y":785,"z":830},{"r":2,"c":2,"s":3,"v":2,"x":118,"y":785,"z":785},
{"r":2,"c":2,"s":4,"v":3,"x":340,"y":733,"z":733},{"r":2,"c":2,"s":4,"v":3,"x":375,"y":706,"z":745},{"r":2,"c":2,"s":4,"v":3,"x":418,"y":685,"z":685},
{"r":2,"c":2,"s":5,"v":3,"x":420,"y":672,"z":672},{"r":2,"c":2,"s":5,"v":3,"x":460,"y":635,"z":692},{"r":2,"c":2,"s":5,"v":3,"x":470,"y":697,"z":697},
{"r":2,"c":2,"s":6,"v":4,"x":123,"y":15,"z":15},{"r":2,"c":2,"s":6,"v":4,"x":125,"y":15,"z":50},{"r":2,"c":2,"s":6,"v":4,"x":170,"y":15,"z":110},{"r":2,"c":2,"s":6,"v":4,"x":240,"y":15,"z":160},{"r":2,"c":2,"s":6,"v":4,"x":300,"y":15,"z":180},{"r":2,"c":2,"s":6,"v":4,"x":395,"y":15,"z":195},{"r":2,"c":2,"s":6,"v":4,"x":450,"y":15,"z":240},{"r":2,"c":2,"s":6,"v":4,"x":550,"y":15,"z":270},{"r":2,"c":2,"s":6,"v":4,"x":640,"y":15,"z":310},{"r":2,"c":2,"s":6,"v":4,"x":690,"y":15,"z":360},{"r":2,"c":2,"s":6,"v":4,"x":770,"y":15,"z":430},{"r":2,"c":2,"s":6,"v":4,"x":840,"y":15,"z":360},{"r":2,"c":2,"s":6,"v":4,"x":880,"y":15,"z":320},{"r":2,"c":2,"s":6,"v":4,"x":960,"y":15,"z":250},{"r":2,"c":2,"s":6,"v":4,"x":1000,"y":15,"z":190},{"r":2,"c":2,"s":6,"v":4,"x":1100,"y":15,"z":150},{"r":2,"c":2,"s":6,"v":4,"x":1190,"y":15,"z":100},{"r":2,"c":2,"s":6,"v":4,"x":1210,"y":15,"z":45},{"r":2,"c":2,"s":6,"v":4,"x":1227,"y":15,"z":40},
{"r":2,"c":2,"s":7,"v":5,"x":425,"y":45,"z":97},{"r":2,"c":2,"s":7,"v":5,"x":490,"y":22,"z":120},{"r":2,"c":2,"s":7,"v":5,"x":520,"y":15,"z":135},{"r":2,"c":2,"s":7,"v":5,"x":630,"y":15,"z":185},{"r":2,"c":2,"s":7,"v":5,"x":720,"y":15,"z":188},{"r":2,"c":2,"s":7,"v":5,"x":825,"y":15,"z":190},{"r":2,"c":2,"s":7,"v":5,"x":850,"y":15,"z":100},{"r":2,"c":2,"s":7,"v":5,"x":855,"y":15,"z":15},
{"r":2,"c":2,"s":8,"v":1.5,"x":1040,"y":1160,"z":1160},{"r":2,"c":2,"s":8,"v":1.5,"x":1124,"y":1135,"z":1160},{"r":2,"c":2,"s":8,"v":1.5,"x":1125,"y":1075,"z":1160},{"r":2,"c":2,"s":8,"v":1.5,"x":1227,"y":1020,"z":1160},

{"r":2,"c":3,"s":1,"v":3,"x":0,"y":15,"z":1160},{"r":2,"c":3,"s":1,"v":3,"x":1227,"y":15,"z":1160},
{"r":2,"c":3,"s":2,"v":4,"x":0,"y":15,"z":248},{"r":2,"c":3,"s":2,"v":4,"x":60,"y":15,"z":262},{"r":2,"c":3,"s":2,"v":4,"x":110,"y":15,"z":255},{"r":2,"c":3,"s":2,"v":4,"x":180,"y":15,"z":285},{"r":2,"c":3,"s":2,"v":4,"x":235,"y":15,"z":340},{"r":2,"c":3,"s":2,"v":4,"x":330,"y":15,"z":380},{"r":2,"c":3,"s":2,"v":4,"x":450,"y":15,"z":440},{"r":2,"c":3,"s":2,"v":4,"x":550,"y":15,"z":520},{"r":2,"c":3,"s":2,"v":4,"x":640,"y":15,"z":600},{"r":2,"c":3,"s":2,"v":4,"x":720,"y":15,"z":655},{"r":2,"c":3,"s":2,"v":4,"x":810,"y":15,"z":680},{"r":2,"c":3,"s":2,"v":4,"x":900,"y":15,"z":665},{"r":2,"c":3,"s":2,"v":4,"x":1000,"y":15,"z":610},{"r":2,"c":3,"s":2,"v":4,"x":1050,"y":15,"z":560},{"r":2,"c":3,"s":2,"v":4,"x":1100,"y":15,"z":535},{"r":2,"c":3,"s":2,"v":4,"x":1227,"y":15,"z":500},
{"r":2,"c":3,"s":3,"v":4,"x":0,"y":620,"z":648},{"r":2,"c":3,"s":3,"v":4,"x":10,"y":620,"z":660},{"r":2,"c":3,"s":3,"v":4,"x":20,"y":640,"z":675},{"r":2,"c":3,"s":3,"v":4,"x":33,"y":675,"z":675},
{"r":2,"c":3,"s":4,"v":5,"x":120,"y":15,"z":15},{"r":2,"c":3,"s":4,"v":5,"x":160,"y":15,"z":100},{"r":2,"c":3,"s":4,"v":5,"x":235,"y":15,"z":175},{"r":2,"c":3,"s":4,"v":5,"x":330,"y":15,"z":172},{"r":2,"c":3,"s":4,"v":5,"x":395,"y":15,"z":195},{"r":2,"c":3,"s":4,"v":5,"x":450,"y":15,"z":235},{"r":2,"c":3,"s":4,"v":5,"x":555,"y":15,"z":285},{"r":2,"c":3,"s":4,"v":5,"x":640,"y":15,"z":350},{"r":2,"c":3,"s":4,"v":5,"x":690,"y":15,"z":400},{"r":2,"c":3,"s":4,"v":5,"x":760,"y":15,"z":435},{"r":2,"c":3,"s":4,"v":5,"x":840,"y":15,"z":445},{"r":2,"c":3,"s":4,"v":5,"x":900,"y":15,"z":440},{"r":2,"c":3,"s":4,"v":5,"x":945,"y":15,"z":385},{"r":2,"c":3,"s":4,"v":5,"x":960,"y":15,"z":320},{"r":2,"c":3,"s":4,"v":5,"x":1050,"y":15,"z":280},{"r":2,"c":3,"s":4,"v":5,"x":1227,"y":15,"z":265},
{"r":2,"c":3,"s":5,"v":7,"x":562,"y":15,"z":15},{"r":2,"c":3,"s":5,"v":7,"x":590,"y":15,"z":60},{"r":2,"c":3,"s":5,"v":7,"x":680,"y":15,"z":130},{"r":2,"c":3,"s":5,"v":7,"x":760,"y":15,"z":95},{"r":2,"c":3,"s":5,"v":7,"x":820,"y":15,"z":60},{"r":2,"c":3,"s":5,"v":7,"x":855,"y":15,"z":15},
{"r":2,"c":3,"s":6,"v":2,"x":0,"y":1045,"z":1160},{"r":2,"c":3,"s":6,"v":2,"x":60,"y":1090,"z":1160},{"r":2,"c":3,"s":6,"v":2,"x":150,"y":1130,"z":1160},{"r":2,"c":3,"s":6,"v":2,"x":300,"y":1135,"z":1160},{"r":2,"c":3,"s":6,"v":2,"x":420,"y":1130,"z":1160},{"r":2,"c":3,"s":6,"v":2,"x":500,"y":1090,"z":1160},{"r":2,"c":3,"s":6,"v":2,"x":530,"y":1060,"z":1160},{"r":2,"c":3,"s":6,"v":2,"x":540,"y":985,"z":1160},{"r":2,"c":3,"s":6,"v":2,"x":590,"y":960,"z":1160},{"r":2,"c":3,"s":6,"v":2,"x":650,"y":990,"z":1160},{"r":2,"c":3,"s":6,"v":2,"x":680,"y":1020,"z":1160},{"r":2,"c":3,"s":6,"v":2,"x":720,"y":1035,"z":1160},{"r":2,"c":3,"s":6,"v":2,"x":830,"y":1025,"z":1160},{"r":2,"c":3,"s":6,"v":2,"x":1000,"y":1010,"z":1160},{"r":2,"c":3,"s":6,"v":2,"x":1100,"y":975,"z":1160},{"r":2,"c":3,"s":6,"v":2,"x":1200,"y":890,"z":1160},{"r":2,"c":3,"s":6,"v":2,"x":1227,"y":870,"z":1160},
{"r":2,"c":3,"s":7,"v":1.5,"x":1170,"y":1160,"z":1160},{"r":2,"c":3,"s":7,"v":1.5,"x":1227,"y":1120,"z":1160},

{"r":3,"c":1,"s":1,"v":2,"x":0,"y":15,"z":1160},{"r":3,"c":1,"s":1,"v":2,"x":1227,"y":15,"z":1160},
{"r":3,"c":1,"s":2,"v":3,"x":0,"y":15,"z":730},{"r":3,"c":1,"s":2,"v":3,"x":110,"y":15,"z":740},{"r":3,"c":1,"s":2,"v":3,"x":200,"y":15,"z":750},{"r":3,"c":1,"s":2,"v":3,"x":250,"y":15,"z":745},{"r":3,"c":1,"s":2,"v":3,"x":262,"y":15,"z":770},{"r":3,"c":1,"s":2,"v":3,"x":310,"y":15,"z":820},{"r":3,"c":1,"s":2,"v":3,"x":322,"y":15,"z":830},{"r":3,"c":1,"s":2,"v":3,"x":345,"y":15,"z":775},{"r":3,"c":1,"s":2,"v":3,"x":400,"y":15,"z":770},{"r":3,"c":1,"s":2,"v":3,"x":460,"y":15,"z":812},{"r":3,"c":1,"s":2,"v":3,"x":580,"y":15,"z":735},{"r":3,"c":1,"s":2,"v":3,"x":590,"y":15,"z":690},{"r":3,"c":1,"s":2,"v":3,"x":630,"y":15,"z":668},{"r":3,"c":1,"s":2,"v":3,"x":720,"y":15,"z":705},{"r":3,"c":1,"s":2,"v":3,"x":810,"y":15,"z":735},{"r":3,"c":1,"s":2,"v":3,"x":940,"y":15,"z":685},{"r":3,"c":1,"s":2,"v":3,"x":1050,"y":15,"z":700},{"r":3,"c":1,"s":2,"v":3,"x":1160,"y":15,"z":720},{"r":3,"c":1,"s":2,"v":3,"x":1227,"y":15,"z":700},
{"r":3,"c":1,"s":3,"v":3,"x":282,"y":905,"z":905},{"r":3,"c":1,"s":3,"v":3,"x":300,"y":880,"z":908},{"r":3,"c":1,"s":3,"v":3,"x":322,"y":820,"z":880},{"r":3,"c":1,"s":3,"v":3,"x":330,"y":810,"z":870},{"r":3,"c":1,"s":3,"v":3,"x":345,"y":775,"z":775},
{"r":3,"c":1,"s":4,"v":2,"x":103,"y":505,"z":560},{"r":3,"c":1,"s":4,"v":2,"x":150,"y":490,"z":592},{"r":3,"c":1,"s":4,"v":2,"x":170,"y":500,"z":572},{"r":3,"c":1,"s":4,"v":2,"x":188,"y":555,"z":555},
{"r":3,"c":1,"s":5,"v":4,"x":0,"y":15,"z":30},{"r":3,"c":1,"s":5,"v":4,"x":70,"y":15,"z":90},{"r":3,"c":1,"s":5,"v":4,"x":160,"y":15,"z":165},{"r":3,"c":1,"s":5,"v":4,"x":280,"y":15,"z":230},{"r":3,"c":1,"s":5,"v":4,"x":330,"y":15,"z":255},{"r":3,"c":1,"s":5,"v":4,"x":410,"y":15,"z":285},{"r":3,"c":1,"s":5,"v":4,"x":480,"y":15,"z":320},{"r":3,"c":1,"s":5,"v":4,"x":550,"y":15,"z":352},{"r":3,"c":1,"s":5,"v":4,"x":660,"y":15,"z":380},{"r":3,"c":1,"s":5,"v":4,"x":720,"y":15,"z":440},{"r":3,"c":1,"s":5,"v":4,"x":780,"y":15,"z":462},{"r":3,"c":1,"s":5,"v":4,"x":860,"y":15,"z":460},{"r":3,"c":1,"s":5,"v":4,"x":950,"y":15,"z":415},{"r":3,"c":1,"s":5,"v":4,"x":1020,"y":15,"z":385},{"r":3,"c":1,"s":5,"v":4,"x":1110,"y":15,"z":368},{"r":3,"c":1,"s":5,"v":4,"x":1227,"y":15,"z":375},
{"r":3,"c":1,"s":6,"v":5,"x":235,"y":15,"z":15},{"r":3,"c":1,"s":6,"v":5,"x":250,"y":15,"z":60},{"r":3,"c":1,"s":6,"v":5,"x":320,"y":15,"z":145},{"r":3,"c":1,"s":6,"v":5,"x":395,"y":15,"z":190},{"r":3,"c":1,"s":6,"v":5,"x":470,"y":15,"z":235},{"r":3,"c":1,"s":6,"v":5,"x":560,"y":15,"z":275},{"r":3,"c":1,"s":6,"v":5,"x":680,"y":15,"z":305},{"r":3,"c":1,"s":6,"v":5,"x":770,"y":15,"z":345},{"r":3,"c":1,"s":6,"v":5,"x":860,"y":15,"z":330},{"r":3,"c":1,"s":6,"v":5,"x":930,"y":15,"z":250},{"r":3,"c":1,"s":6,"v":5,"x":1000,"y":15,"z":165},{"r":3,"c":1,"s":6,"v":5,"x":1010,"y":15,"z":100},{"r":3,"c":1,"s":6,"v":5,"x":1040,"y":15,"z":55},{"r":3,"c":1,"s":6,"v":5,"x":1140,"y":15,"z":35},{"r":3,"c":1,"s":6,"v":5,"x":1227,"y":15,"z":30},
{"r":3,"c":1,"s":7,"v":1.5,"x":640,"y":1160,"z":1160},{"r":3,"c":1,"s":7,"v":1.5,"x":700,"y":1110,"z":1160},{"r":3,"c":1,"s":7,"v":1.5,"x":770,"y":1050,"z":1160},{"r":3,"c":1,"s":7,"v":1.5,"x":810,"y":1048,"z":1160},{"r":3,"c":1,"s":7,"v":1.5,"x":900,"y":1070,"z":1160},{"r":3,"c":1,"s":7,"v":1.5,"x":950,"y":1105,"z":1160},{"r":3,"c":1,"s":7,"v":1.5,"x":1050,"y":1100,"z":1160},{"r":3,"c":1,"s":7,"v":1.5,"x":1130,"y":1070,"z":1160},{"r":3,"c":1,"s":7,"v":1.5,"x":1227,"y":1040,"z":1160},

{"r":3,"c":2,"s":1,"v":3,"x":0,"y":15,"z":1160},{"r":3,"c":2,"s":1,"v":3,"x":1227,"y":15,"z":1160},
{"r":3,"c":2,"s":2,"v":2,"x":0,"y":1095,"z":1160},{"r":3,"c":2,"s":2,"v":2,"x":65,"y":1115,"z":1160},{"r":3,"c":2,"s":2,"v":2,"x":130,"y":1095,"z":1160},{"r":3,"c":2,"s":2,"v":2,"x":240,"y":1050,"z":1160},{"r":3,"c":2,"s":2,"v":2,"x":330,"y":1090,"z":1160},{"r":3,"c":2,"s":2,"v":2,"x":380,"y":1075,"z":1160},{"r":3,"c":2,"s":2,"v":2,"x":500,"y":1085,"z":1160},{"r":3,"c":2,"s":2,"v":2,"x":640,"y":1065,"z":1160},{"r":3,"c":2,"s":2,"v":2,"x":770,"y":1060,"z":1160},{"r":3,"c":2,"s":2,"v":2,"x":900,"y":1090,"z":1160},{"r":3,"c":2,"s":2,"v":2,"x":1000,"y":1050,"z":1160},{"r":3,"c":2,"s":2,"v":2,"x":1100,"y":1040,"z":1160},{"r":3,"c":2,"s":2,"v":2,"x":1170,"y":1015,"z":1160},{"r":3,"c":2,"s":2,"v":2,"x":1227,"y":960,"z":1160},
{"r":3,"c":2,"s":3,"v":4,"x":0,"y":15,"z":655},{"r":3,"c":2,"s":3,"v":4,"x":65,"y":15,"z":665},{"r":3,"c":2,"s":3,"v":4,"x":130,"y":15,"z":620},{"r":3,"c":2,"s":3,"v":4,"x":180,"y":15,"z":565},{"r":3,"c":2,"s":3,"v":4,"x":240,"y":15,"z":540},{"r":3,"c":2,"s":3,"v":4,"x":300,"y":15,"z":540},{"r":3,"c":2,"s":3,"v":4,"x":355,"y":15,"z":565},{"r":3,"c":2,"s":3,"v":4,"x":374,"y":15,"z":610},{"r":3,"c":2,"s":3,"v":4,"x":375,"y":15,"z":680},{"r":3,"c":2,"s":3,"v":4,"x":420,"y":15,"z":680},{"r":3,"c":2,"s":3,"v":4,"x":460,"y":15,"z":708},{"r":3,"c":2,"s":3,"v":4,"x":510,"y":15,"z":690},{"r":3,"c":2,"s":3,"v":4,"x":560,"y":15,"z":697},{"r":3,"c":2,"s":3,"v":4,"x":640,"y":15,"z":710},{"r":3,"c":2,"s":3,"v":4,"x":720,"y":15,"z":712},{"r":3,"c":2,"s":3,"v":4,"x":810,"y":15,"z":735},{"r":3,"c":2,"s":3,"v":4,"x":940,"y":15,"z":735},{"r":3,"c":2,"s":3,"v":4,"x":1040,"y":15,"z":745},{"r":3,"c":2,"s":3,"v":4,"x":1090,"y":15,"z":730},{"r":3,"c":2,"s":3,"v":4,"x":1100,"y":15,"z":675},{"r":3,"c":2,"s":3,"v":4,"x":1180,"y":15,"z":650},{"r":3,"c":2,"s":3,"v":4,"x":1227,"y":15,"z":610},
{"r":3,"c":2,"s":4,"v":5,"x":0,"y":15,"z":158},{"r":3,"c":2,"s":4,"v":5,"x":60,"y":15,"z":210},{"r":3,"c":2,"s":4,"v":5,"x":130,"y":15,"z":250},{"r":3,"c":2,"s":4,"v":5,"x":240,"y":15,"z":270},{"r":3,"c":2,"s":4,"v":5,"x":300,"y":15,"z":310},{"r":3,"c":2,"s":4,"v":5,"x":400,"y":15,"z":380},{"r":3,"c":2,"s":4,"v":5,"x":500,"y":15,"z":450},{"r":3,"c":2,"s":4,"v":5,"x":600,"y":15,"z":490},{"r":3,"c":2,"s":4,"v":5,"x":680,"y":15,"z":520},{"r":3,"c":2,"s":4,"v":5,"x":800,"y":15,"z":525},{"r":3,"c":2,"s":4,"v":5,"x":900,"y":15,"z":505},{"r":3,"c":2,"s":4,"v":5,"x":1000,"y":15,"z":450},{"r":3,"c":2,"s":4,"v":5,"x":1110,"y":15,"z":395},{"r":3,"c":2,"s":4,"v":5,"x":1227,"y":15,"z":355},
{"r":3,"c":2,"s":5,"v":7,"x":302,"y":15,"z":15},{"r":3,"c":2,"s":5,"v":7,"x":330,"y":15,"z":75},{"r":3,"c":2,"s":5,"v":7,"x":395,"y":15,"z":130},{"r":3,"c":2,"s":5,"v":7,"x":470,"y":15,"z":165},{"r":3,"c":2,"s":5,"v":7,"x":560,"y":15,"z":215},{"r":3,"c":2,"s":5,"v":7,"x":640,"y":15,"z":260},{"r":3,"c":2,"s":5,"v":7,"x":760,"y":15,"z":300},{"r":3,"c":2,"s":5,"v":7,"x":830,"y":15,"z":280},{"r":3,"c":2,"s":5,"v":7,"x":900,"y":15,"z":240},{"r":3,"c":2,"s":5,"v":7,"x":940,"y":15,"z":180},{"r":3,"c":2,"s":5,"v":7,"x":980,"y":15,"z":70},{"r":3,"c":2,"s":5,"v":7,"x":1010,"y":15,"z":30},{"r":3,"c":2,"s":5,"v":7,"x":1030,"y":15,"z":15},

{"r":3,"c":3,"s":1,"v":3,"x":0,"y":15,"z":1160},{"r":3,"c":3,"s":1,"v":3,"x":1227,"y":15,"z":1160},
{"r":3,"c":3,"s":2,"v":2,"x":1000,"y":1160,"z":1160},{"r":3,"c":3,"s":2,"v":2,"x":1090,"y":1125,"z":1160},{"r":3,"c":3,"s":2,"v":2,"x":1227,"y":1045,"z":1160},
{"r":3,"c":3,"s":3,"v":4,"x":0,"y":15,"z":975},{"r":3,"c":3,"s":3,"v":4,"x":100,"y":15,"z":1045},{"r":3,"c":3,"s":3,"v":4,"x":200,"y":15,"z":1075},{"r":3,"c":3,"s":3,"v":4,"x":320,"y":15,"z":1078},{"r":3,"c":3,"s":3,"v":4,"x":420,"y":15,"z":1020},{"r":3,"c":3,"s":3,"v":4,"x":540,"y":15,"z":998},{"r":3,"c":3,"s":3,"v":4,"x":590,"y":15,"z":1040},{"r":3,"c":3,"s":3,"v":4,"x":650,"y":15,"z":1045},{"r":3,"c":3,"s":3,"v":4,"x":720,"y":15,"z":1050},{"r":3,"c":3,"s":3,"v":4,"x":850,"y":15,"z":1015},{"r":3,"c":3,"s":3,"v":4,"x":985,"y":15,"z":960},{"r":3,"c":3,"s":3,"v":4,"x":1080,"y":15,"z":965},{"r":3,"c":3,"s":3,"v":4,"x":1130,"y":15,"z":930},{"r":3,"c":3,"s":3,"v":4,"x":1160,"y":15,"z":900},{"r":3,"c":3,"s":3,"v":4,"x":1227,"y":15,"z":870},
{"r":3,"c":3,"s":4,"v":5,"x":0,"y":15,"z":750},{"r":3,"c":3,"s":4,"v":5,"x":50,"y":15,"z":745},{"r":3,"c":3,"s":4,"v":5,"x":105,"y":15,"z":715},{"r":3,"c":3,"s":4,"v":5,"x":430,"y":15,"z":715},{"r":3,"c":3,"s":4,"v":5,"x":445,"y":15,"z":810},{"r":3,"c":3,"s":4,"v":5,"x":446,"y":15,"z":900},{"r":3,"c":3,"s":4,"v":5,"x":465,"y":15,"z":920},{"r":3,"c":3,"s":4,"v":5,"x":570,"y":15,"z":855},{"r":3,"c":3,"s":4,"v":5,"x":710,"y":15,"z":850},{"r":3,"c":3,"s":4,"v":5,"x":1227,"y":15,"z":850},
{"r":3,"c":3,"s":5,"v":4,"x":65,"y":560,"z":560},{"r":3,"c":3,"s":5,"v":4,"x":75,"y":520,"z":600},{"r":3,"c":3,"s":5,"v":4,"x":100,"y":480,"z":640},{"r":3,"c":3,"s":5,"v":4,"x":110,"y":470,"z":650},{"r":3,"c":3,"s":5,"v":4,"x":111,"y":468,"z":1000},{"r":3,"c":3,"s":5,"v":4,"x":155,"y":448,"z":1000},{"r":3,"c":3,"s":5,"v":4,"x":240,"y":465,"z":1000},{"r":3,"c":3,"s":5,"v":4,"x":320,"y":520,"z":1000},{"r":3,"c":3,"s":5,"v":4,"x":410,"y":630,"z":1000},{"r":3,"c":3,"s":5,"v":4,"x":430,"y":670,"z":1000},
{"r":3,"c":3,"s":6,"v":4,"x":565,"y":675,"z":675},{"r":3,"c":3,"s":6,"v":4,"x":600,"y":632,"z":727},{"r":3,"c":3,"s":6,"v":4,"x":640,"y":630,"z":790},{"r":3,"c":3,"s":6,"v":4,"x":710,"y":630,"z":850},{"r":3,"c":3,"s":6,"v":4,"x":711,"y":630,"z":900},{"r":3,"c":3,"s":6,"v":4,"x":810,"y":630,"z":900},{"r":3,"c":3,"s":6,"v":4,"x":930,"y":605,"z":900},{"r":3,"c":3,"s":6,"v":4,"x":1050,"y":575,"z":900},{"r":3,"c":3,"s":6,"v":4,"x":1100,"y":550,"z":900},{"r":3,"c":3,"s":6,"v":4,"x":1227,"y":545,"z":860},
{"r":3,"c":3,"s":7,"v":7,"x":145,"y":15,"z":15},{"r":3,"c":3,"s":7,"v":7,"x":160,"y":15,"z":80},{"r":3,"c":3,"s":7,"v":7,"x":200,"y":15,"z":130},{"r":3,"c":3,"s":7,"v":7,"x":240,"y":15,"z":185},{"r":3,"c":3,"s":7,"v":7,"x":300,"y":15,"z":220},{"r":3,"c":3,"s":7,"v":7,"x":400,"y":15,"z":270},{"r":3,"c":3,"s":7,"v":7,"x":500,"y":15,"z":290},{"r":3,"c":3,"s":7,"v":7,"x":580,"y":15,"z":305},{"r":3,"c":3,"s":7,"v":7,"x":640,"y":15,"z":350},{"r":3,"c":3,"s":7,"v":7,"x":700,"y":15,"z":410},{"r":3,"c":3,"s":7,"v":7,"x":760,"y":15,"z":433},{"r":3,"c":3,"s":7,"v":7,"x":830,"y":15,"z":415},{"r":3,"c":3,"s":7,"v":7,"x":880,"y":15,"z":370},{"r":3,"c":3,"s":7,"v":7,"x":920,"y":15,"z":310},{"r":3,"c":3,"s":7,"v":7,"x":1000,"y":15,"z":250},{"r":3,"c":3,"s":7,"v":7,"x":1100,"y":15,"z":210},{"r":3,"c":3,"s":7,"v":7,"x":1227,"y":15,"z":190},
{"r":3,"c":3,"s":8,"v":9,"x":415,"y":15,"z":15},{"r":3,"c":3,"s":8,"v":9,"x":470,"y":15,"z":50},{"r":3,"c":3,"s":8,"v":9,"x":530,"y":15,"z":40},{"r":3,"c":3,"s":8,"v":9,"x":560,"y":15,"z":15},
{"r":3,"c":3,"s":9,"v":9,"x":640,"y":15,"z":15},{"r":3,"c":3,"s":9,"v":9,"x":680,"y":15,"z":90},{"r":3,"c":3,"s":9,"v":9,"x":740,"y":15,"z":158},{"r":3,"c":3,"s":9,"v":9,"x":790,"y":15,"z":130},{"r":3,"c":3,"s":9,"v":9,"x":815,"y":15,"z":95},{"r":3,"c":3,"s":9,"v":9,"x":816,"y":15,"z":15}
]},
"facet":{"row":{"field":"r","type":"ordinal","header":null},"column":{"field":"c","type":"ordinal","header":null}},
"spacing":{"row":20,"column":8.5},
"bounds":"flush",
"resolve":{"scale":{"x":"shared","y":"shared"}},
"spec":{"width":409,"height":381.5,
"encoding":{"x":{"field":"x","type":"quantitative","scale":{"domain":[0,1227],"nice":false,"zero":false},"axis":null},"y":{"field":"y","type":"quantitative","scale":{"domain":[15,1160],"nice":false,"zero":false,"reverse":true},"axis":null}},
"layer":[
{"transform":[{"filter":"isValid(datum.s)"}],"mark":{"type":"area","orient":"vertical","interpolate":"linear"},"encoding":{"y2":{"field":"z"},"detail":{"field":"s"},"color":{"field":"v","type":"quantitative","legend":null,"scale":{"type":"threshold","domain":[-2,-1.5,-1,-0.5,0,0.5,1,1.5,2,3,4,5,7,9,11],"range":["#25306F","#4F5FD6","#7C88E8","#A6B3F8","#D0D6FB","#FDF7C8","#FCE3A0","#F9D16E","#F8B942","#F89145","#F85A2A","#E0003A","#BC0024","#900020","#6C0018","#6B0055"]}}}},
{"data":{"name":"land"},"mark":{"type":"line","color":"#333333","strokeWidth":0.8,"opacity":0.85},"encoding":{"detail":{"field":"g"},"order":{"value":null}}},
{"data":{"name":"lake"},"mark":{"type":"line","color":"#7562B4","strokeWidth":0.8},"encoding":{"detail":{"field":"g"},"order":{"value":null}}},
{"data":{"name":"dots"},"mark":{"type":"point","filled":true,"size":2,"color":"#222222"}},
{"data":{"name":"cities"},"mark":{"type":"point","filled":true,"size":7,"color":"#000000"}},
{"data":{"name":"labels"},"mark":{"type":"text","fontSize":7.5,"color":"#222222","align":"center","baseline":"middle"},"encoding":{"text":{"field":"n"}}},
{"data":{"values":[{"n":"Ottawa","x":980,"y":826}]},"mark":{"type":"text","fontSize":9.5,"color":"#222222","align":"center","baseline":"middle"},"encoding":{"text":{"field":"n"}}},
{"transform":[{"filter":"datum.t"},{"calculate":"622.5","as":"u"},{"calculate":"-12","as":"w"}],"mark":{"type":"text","fontSize":7.35,"fontWeight":"bold","color":"#222222","align":"center","baseline":"middle"},"encoding":{"x":{"field":"u","type":"quantitative"},"y":{"field":"w","type":"quantitative"},"text":{"field":"t"}}},
{"transform":[{"filter":"datum.h"},{"calculate":"613.5+(datum.c==1?22:datum.c==2?7:15)","as":"u"},{"calculate":"-123","as":"w"}],"mark":{"type":"text","fontSize":26.7,"fontWeight":"bold","color":"#000000","align":"center","baseline":"middle"},"encoding":{"x":{"field":"u","type":"quantitative"},"y":{"field":"w","type":"quantitative"},"text":{"field":"h"}}},
{"transform":[{"filter":"datum.l"},{"calculate":"-54","as":"u"},{"calculate":"510","as":"w"}],"mark":{"type":"text","fontSize":26.8,"fontWeight":"bold","color":"#000000","align":"center","baseline":"middle","angle":270},"encoding":{"x":{"field":"u","type":"quantitative"},"y":{"field":"w","type":"quantitative"},"text":{"field":"l"}}}
]}},
{"width":1243,"height":16,
"layer":[
{"data":{"values":[{"i":0,"j":1,"v":-3},{"i":1,"j":2,"v":-2},{"i":2,"j":3,"v":-1.5},{"i":3,"j":4,"v":-1},{"i":4,"j":5,"v":-0.5},{"i":5,"j":6,"v":0},{"i":6,"j":7,"v":0.5},{"i":7,"j":8,"v":1},{"i":8,"j":9,"v":1.5},{"i":9,"j":10,"v":2},{"i":10,"j":11,"v":3},{"i":11,"j":12,"v":4},{"i":12,"j":13,"v":5},{"i":13,"j":14,"v":7},{"i":14,"j":15,"v":9},{"i":15,"j":16,"v":11}]},
"mark":{"type":"rect"},
"encoding":{"x":{"field":"i","type":"quantitative","scale":{"domain":[-10.058,25.97],"nice":false,"zero":false},"axis":{"values":[1,2,3,4,5,6,7,8,9,10,11,12,13,14,15],"labelExpr":"['','-2','-1.5','-1','-0.5','0','0.5','1','1.5','2','3','4','5','7','9','11'][datum.value]","domain":false,"grid":false,"title":null,"tickSize":7,"tickColor":"#333333","tickWidth":1,"labelFontSize":11,"labelColor":"#333333","labelPadding":8,"labelOverlap":false,"labelFlush":false}},"x2":{"field":"j"},"color":{"field":"v","type":"quantitative","legend":null,"scale":{"type":"threshold","domain":[-2,-1.5,-1,-0.5,0,0.5,1,1.5,2,3,4,5,7,9,11],"range":["#25306F","#4F5FD6","#7C88E8","#A6B3F8","#D0D6FB","#FDF7C8","#FCE3A0","#F9D16E","#F8B942","#F89145","#F85A2A","#E0003A","#BC0024","#900020","#6C0018","#6B0055"]}}}},
{"data":{"values":[{"i":0,"j":16}]},"mark":{"type":"rect","fillOpacity":0,"stroke":"#222222","strokeWidth":0.8},"encoding":{"x":{"field":"i","type":"quantitative"},"x2":{"field":"j"}}}
]}
]}
